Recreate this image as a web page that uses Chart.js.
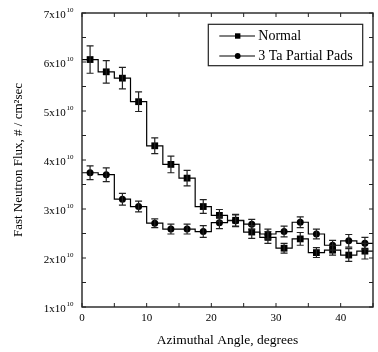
<!DOCTYPE html>
<html><head><meta charset="utf-8">
<script src="https://cdn.jsdelivr.net/npm/chart.js@4.4.1/dist/chart.umd.min.js"></script>
<style>html,body{margin:0;padding:0;background:#fff;} canvas{display:block;}</style>
</head><body>
<canvas id="c" width="378" height="352"></canvas>
<script>
// ---- data (flux in units of 10^10 n / cm^2 sec) ----
const seriesNames = ['Normal', '3 Ta Partial Pads'];
const angles = [1.25, 3.75, 6.25, 8.75, 11.25, 13.75, 16.25, 18.75, 21.25, 23.75, 26.25, 28.75, 31.25, 33.75, 36.25, 38.75, 41.25, 43.75];
const binWidth = 2.5;
const normalFlux = [6.05, 5.80, 5.67, 5.19, 4.29, 3.91, 3.63, 3.05, 2.87, 2.77, 2.53, 2.42, 2.20, 2.39, 2.11, 2.16, 2.06, 2.14];
const normalErr  = [0.28, 0.23, 0.22, 0.20, 0.16, 0.17, 0.16, 0.14, 0.12, 0.12, 0.13, 0.12, 0.10, 0.13, 0.10, 0.10, 0.13, 0.16];
const taFlux     = [3.74, 3.70, 3.20, 3.05, 2.71, 2.59, 2.59, 2.54, 2.72, 2.76, 2.69, 2.49, 2.54, 2.73, 2.49, 2.26, 2.35, 2.30];
const taErr      = [0.14, 0.14, 0.12, 0.11, 0.09, 0.10, 0.10, 0.12, 0.12, 0.12, 0.10, 0.10, 0.11, 0.11, 0.10, 0.10, 0.13, 0.12];
const yTickLabels = [1, 2, 3, 4, 5, 6, 7];   // mantissa of N x 10^10
const yExponent = '10';
const xTickLabels = [0, 10, 20, 30, 40];
const xTitle = 'Azimuthal Angle, degrees';
const yTitle = 'Fast Neutron Flux, # / cm\u00B2sec';

const FONT = "'Liberation Serif', 'Times New Roman', serif";

function stepData(vals) {
  const pts = angles.map((a, i) => ({x: a - binWidth / 2, y: vals[i]}));
  pts.push({x: angles[angles.length - 1] + binWidth / 2, y: vals[vals.length - 1]});
  return pts;
}
function pointData(vals) { return angles.map((a, i) => ({x: a, y: vals[i]})); }

const errorBars = {
  id: 'errorBars',
  afterDatasetsDraw(chart) {
    const ctx = chart.ctx, ys = chart.scales.y, xs = chart.scales.x;
    ctx.save();
    ctx.strokeStyle = '#222';
    ctx.lineWidth = 1.2;
    chart.data.datasets.forEach((ds) => {
      if (!ds.errors) return;
      ds.data.forEach((p, i) => {
        const x = xs.getPixelForValue(p.x);
        const y1 = ys.getPixelForValue(p.y + ds.errors[i]);
        const y2 = ys.getPixelForValue(p.y - ds.errors[i]);
        ctx.beginPath();
        ctx.moveTo(x, y1); ctx.lineTo(x, y2);
        ctx.moveTo(x - 3.5, y1); ctx.lineTo(x + 3.5, y1);
        ctx.moveTo(x - 3.5, y2); ctx.lineTo(x + 3.5, y2);
        ctx.stroke();
      });
    });
    ctx.restore();
  }
};

const frameAndTicks = {
  id: 'frameAndTicks',
  afterDraw(chart) {
    const ctx = chart.ctx, ca = chart.chartArea, xs = chart.scales.x, ys = chart.scales.y;
    ctx.save();
    ctx.strokeStyle = '#222';
    ctx.lineWidth = 1.4;
    ctx.strokeRect(ca.left, ca.top, ca.right - ca.left, ca.bottom - ca.top);
    ctx.lineWidth = 1;
    const L = 4;
    ctx.beginPath();
    xs.ticks.forEach(t => {
      const x = xs.getPixelForValue(t.value);
      ctx.moveTo(x, ca.bottom); ctx.lineTo(x, ca.bottom - L);
      ctx.moveTo(x, ca.top); ctx.lineTo(x, ca.top + L);
    });
    ys.ticks.forEach(t => {
      const y = ys.getPixelForValue(t.value);
      ctx.moveTo(ca.left, y); ctx.lineTo(ca.left + L, y);
      ctx.moveTo(ca.right, y); ctx.lineTo(ca.right - L, y);
    });
    ctx.stroke();
    // y tick labels with superscript exponent
    ctx.fillStyle = '#000';
    yTickLabels.forEach(m => {
      const y = ys.getPixelForValue(m);
      const xr = ca.left - 16.3;
      ctx.font = '11px ' + FONT;
      ctx.textAlign = 'right';
      ctx.textBaseline = 'alphabetic';
      ctx.fillText(m + 'x10', xr, y + 5);
      ctx.font = '7px ' + FONT;
      ctx.textAlign = 'left';
      ctx.fillText(yExponent, xr + 0.8, y - 1.5);
    });
    ctx.restore();
  }
};

const insideLegend = {
  id: 'insideLegend',
  afterDraw(chart) {
    const ctx = chart.ctx, ca = chart.chartArea;
    const bx = ca.right - 164.7, by = ca.top + 11.3, bw = 154.4, bh = 41.4;
    ctx.save();
    ctx.fillStyle = '#fff';
    ctx.fillRect(bx, by, bw, bh);
    ctx.strokeStyle = '#222';
    ctx.lineWidth = 1.2;
    ctx.strokeRect(bx, by, bw, bh);
    const styles = ['rect', 'circle'];
    seriesNames.forEach((name, i) => {
      const ry = by + 11.7 + i * 20;
      ctx.strokeStyle = '#000';
      ctx.lineWidth = 1.2;
      ctx.beginPath();
      ctx.moveTo(bx + 11, ry); ctx.lineTo(bx + 46.7, ry);
      ctx.stroke();
      ctx.fillStyle = '#000';
      if (styles[i] === 'rect') {
        ctx.fillRect(bx + 29.4 - 2.7, ry - 2.7, 5.4, 5.4);
      } else {
        ctx.beginPath(); ctx.arc(bx + 29.4, ry, 2.9, 0, Math.PI * 2); ctx.fill();
      }
      ctx.font = '14px ' + FONT;
      ctx.textAlign = 'left';
      ctx.textBaseline = 'middle';
      ctx.fillText(name, bx + 50, ry);
    });
    ctx.restore();
  }
};

new Chart(document.getElementById('c'), {
  type: 'line',
  data: {
    datasets: [
      {label: seriesNames[0], data: stepData(normalFlux), stepped: 'before', borderColor: '#000', borderWidth: 1.2, pointRadius: 0, fill: false},
      {label: seriesNames[1], data: stepData(taFlux), stepped: 'before', borderColor: '#000', borderWidth: 1.2, pointRadius: 0, fill: false},
      {label: seriesNames[0], data: pointData(normalFlux), showLine: false, pointStyle: 'rect', pointRadius: 4.8, backgroundColor: '#000', borderColor: '#000', borderWidth: 0, errors: normalErr},
      {label: seriesNames[1], data: pointData(taFlux), showLine: false, pointStyle: 'circle', pointRadius: 3.5, backgroundColor: '#000', borderColor: '#000', borderWidth: 0, errors: taErr}
    ]
  },
  options: {
    responsive: false,
    animation: false,
    events: [],
    layout: {padding: {top: 13, right: 1, left: 0, bottom: 0}},
    plugins: {legend: {display: false}, tooltip: {enabled: false}},
    scales: {
      x: {
        type: 'linear', min: 0, max: 45,
        grid: {display: false, drawTicks: false},
        border: {display: false},
        ticks: {stepSize: 5, padding: 5, color: '#000', font: {family: FONT, size: 11},
          callback: (v) => xTickLabels.includes(v) ? String(v) : ''},
        title: {display: true, text: xTitle, color: '#000', font: {family: FONT, size: 13.5}, padding: {top: 0, bottom: 3}},
        afterFit: (s) => { s.height = 45; }
      },
      y: {
        type: 'linear', min: 1, max: 7,
        grid: {display: false, drawTicks: false},
        border: {display: false},
        ticks: {stepSize: 0.5, display: false},
        title: {display: true, text: yTitle, color: '#000', font: {family: FONT, size: 13}, padding: {top: 10.5, bottom: 0}},
        afterFit: (s) => { s.width = 82; }
      }
    }
  },
  plugins: [errorBars, frameAndTicks, insideLegend]
});
</script>
</body></html>
